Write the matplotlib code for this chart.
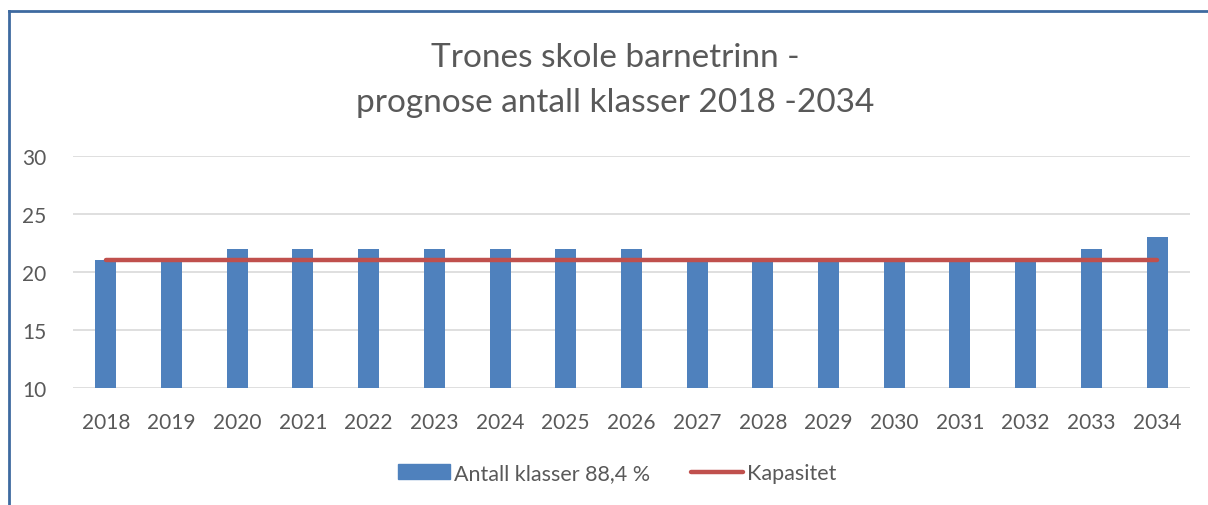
import numpy as np
import matplotlib.pyplot as plt
from matplotlib.lines import Line2D

years = ['2018', '2019', '2020', '2021', '2022', '2023', '2024', '2025', '2026',
         '2027', '2028', '2029', '2030', '2031', '2032', '2033', '2034']
klasser = [21, 21, 22, 22, 22, 22, 22, 22, 22, 21, 21, 21, 21, 21, 21, 22, 23]
kapasitet = [21] * len(years)

txt = '#595959'
plt.rcParams['font.family'] = ['Lato', 'DejaVu Sans']

fig = plt.figure(figsize=(12.08, 5.06), dpi=100)
ax = fig.add_axes([0.0604, 0.2312, 0.9246, 0.4585])

x = np.arange(len(years))
ax.bar(x, klasser, width=0.32, color='#4F81BD', label='Antall klasser 88,4 %', zorder=2)
ax.plot(x, kapasitet, color='#C0504D', lw=3.2, solid_capstyle='round',
        label='Kapasitet', zorder=3)

ax.set_xlim(-0.5, len(years) - 0.5)
ax.set_ylim(10, 30)
ax.set_yticks([10, 15, 20, 25, 30])
ax.set_xticks(x)
ax.set_xticklabels(years)
ax.grid(axis='y', color='#D9D9D9', lw=1.2, zorder=0)
for s in ax.spines.values():
    s.set_visible(False)
ax.tick_params(length=0, labelsize=15, colors=txt)
ax.tick_params(axis='x', pad=17)
ax.tick_params(axis='y', pad=19)

fig.text(0.509, 0.885, 'Trones skole barnetrinn -', ha='center', va='center',
         fontsize=24, color=txt)
fig.text(0.509, 0.797, 'prognose antall klasser 2018 -2034', ha='center', va='center',
         fontsize=24, color=txt)

handles = [plt.Rectangle((0, 0), 1, 1, color='#4F81BD'),
           Line2D([0], [0], color='#C0504D', lw=3.2, solid_capstyle='round')]
fig.legend(handles, ['Antall klasser 88,4 %', 'Kapasitet'], loc='center',
           bbox_to_anchor=(0.511, 0.063), ncol=2, frameon=False, fontsize=15.5,
           labelcolor=txt, handlelength=2.4, handleheight=0.65, handletextpad=0.2,
           columnspacing=1.9)

# outer frame (top and left edges visible)
fig.add_artist(Line2D([0.0075, 1.0], [0.976, 0.976], color='#3E6AA0', lw=2,
                      transform=fig.transFigure))
fig.add_artist(Line2D([0.0075, 0.0075], [0.0, 0.976], color='#3E6AA0', lw=2,
                      transform=fig.transFigure))

fig.savefig('out.png', dpi=100, facecolor='white')
